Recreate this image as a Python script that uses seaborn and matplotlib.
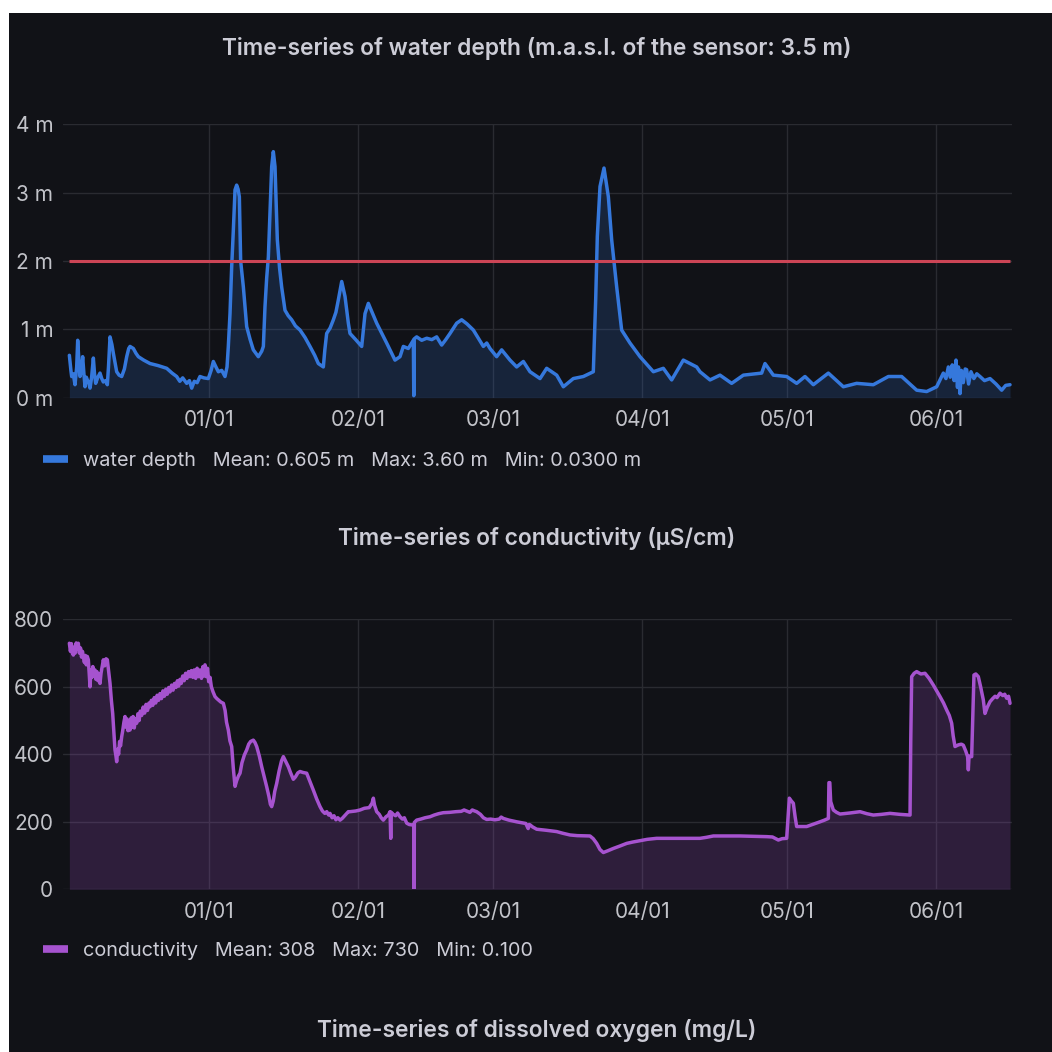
import pandas as pd
import matplotlib
matplotlib.use("Agg")
import matplotlib.pyplot as plt
import matplotlib.dates as mdates
from matplotlib.patches import Rectangle
from matplotlib.ticker import FixedLocator, FuncFormatter
import seaborn as sns

# ---------------------------------------------------------------- data
# Day offsets are counted from 1 January; values read at each sample.
START = pd.Timestamp("2023-01-01")

depth_points = [
    (-28.92, 0.62), (-28.6, 0.40), (-28.44, 0.31), (-28.1, 0.35), (-27.75, 0.19),
    (-27.4, 0.45), (-27.19, 0.84), (-26.95, 0.55), (-26.71, 0.31), (-26.4, 0.40),
    (-26.16, 0.60), (-25.9, 0.35), (-25.67, 0.16), (-25.4, 0.30), (-25.19, 0.26),
    (-24.9, 0.22), (-24.63, 0.14), (-24.3, 0.30), (-23.94, 0.58), (-23.7, 0.35),
    (-23.46, 0.21), (-23.0, 0.30), (-22.56, 0.36), (-22.2, 0.28), (-21.87, 0.23),
    (-21.4, 0.25), (-21.04, 0.19), (-20.8, 0.45), (-20.48, 0.89), (-20.1, 0.78),
    (-19.79, 0.65), (-19.4, 0.50), (-19.10, 0.38), (-18.6, 0.33), (-18.06, 0.31),
    (-17.5, 0.42), (-17.02, 0.60), (-16.6, 0.72), (-16.33, 0.75), (-15.64, 0.72),
    (-15.1, 0.65), (-14.60, 0.60), (-13.5, 0.55), (-12.18, 0.50), (-10.5, 0.47),
    (-8.72, 0.43), (-7.6, 0.36), (-6.65, 0.31), (-6.0, 0.24), (-5.4, 0.29),
    (-4.57, 0.21), (-4.0, 0.25), (-3.53, 0.14), (-3.0, 0.24), (-2.4, 0.22),
    (-1.81, 0.31), (-1.0, 0.29), (-0.08, 0.28), (0.5, 0.40), (0.96, 0.53),
    (1.5, 0.45), (2.0, 0.38), (2.7, 0.40), (3.38, 0.31), (3.8, 0.45),
    (4.07, 0.75), (4.42, 1.23), (4.77, 1.92), (5.11, 2.45), (5.46, 3.04),
    (5.80, 3.11), (6.1, 3.05), (6.36, 2.94), (6.63, 2.00), (7.19, 1.62),
    (7.88, 1.04), (8.6, 0.85), (9.26, 0.70), (10.30, 0.60), (11.0, 0.68),
    (11.34, 0.75), (11.68, 1.33), (12.03, 1.75), (12.38, 2.06), (12.72, 2.70),
    (13.07, 3.38), (13.41, 3.60), (13.76, 3.38), (14.24, 2.31), (14.7, 1.90),
    (15.14, 1.62), (15.83, 1.28), (16.5, 1.20), (17.22, 1.14), (18.0, 1.05),
    (18.95, 0.99), (20.0, 0.88), (21.02, 0.75), (22.0, 0.62), (22.75, 0.50),
    (23.79, 0.45), (24.1, 0.70), (24.48, 0.94), (25.2, 1.02), (25.87, 1.14),
    (26.40, 1.25), (26.90, 1.43), (27.60, 1.70), (28.29, 1.48), (28.98, 1.09),
    (29.32, 0.94), (30.5, 0.85), (31.75, 0.75), (32.44, 1.23), (33.13, 1.38),
    (34.86, 1.09), (36.93, 0.80), (38.66, 0.55), (39.70, 0.60), (40.39, 0.75),
    (41.43, 0.72), (42.47, 0.84), (42.56, 0.03), (42.64, 0.86), (43.16, 0.89),
    (44.2, 0.84), (45.24, 0.87), (46.3, 0.85), (47.31, 0.89), (48.35, 0.77),
    (49.2, 0.85), (50.08, 0.94), (51.46, 1.09), (52.50, 1.14), (53.6, 1.08),
    (54.92, 0.99), (57.00, 0.75), (57.7, 0.80), (58.38, 0.72), (59.76, 0.60),
    (60.80, 0.70), (61.6, 0.63), (62.53, 0.55), (63.91, 0.45), (65.30, 0.53),
    (66.68, 0.38), (68.76, 0.28), (70.14, 0.43), (72.22, 0.33), (73.60, 0.16),
    (75.67, 0.28), (77.75, 0.31), (79.82, 0.38), (80.31, 1.43), (80.65, 2.36),
    (81.21, 3.09), (82.04, 3.36), (82.94, 2.94), (83.63, 2.31), (84.67, 1.62),
    (85.70, 0.99), (87.43, 0.80), (89.51, 0.60), (92.28, 0.38), (94.35, 0.43),
    (96.08, 0.26), (98.50, 0.55), (101.27, 0.45), (101.96, 0.38), (104.04, 0.26),
    (106.11, 0.33), (108.53, 0.21), (110.96, 0.33), (114.76, 0.36), (115.45, 0.50),
    (117.18, 0.33), (119.95, 0.31), (122.02, 0.21), (123.75, 0.31), (125.48, 0.19),
    (128.60, 0.36), (131.71, 0.16), (134.47, 0.21), (137.93, 0.19), (141.05, 0.31),
    (143.81, 0.31), (146.93, 0.11), (149.00, 0.09), (151.08, 0.16), (152.46, 0.36),
    (153.0, 0.28), (153.50, 0.45), (153.9, 0.30), (154.3, 0.48), (154.7, 0.25),
    (155.09, 0.55), (155.4, 0.15), (155.6, 0.45), (155.92, 0.06), (156.2, 0.40),
    (156.6, 0.22), (157.0, 0.42), (157.30, 0.41), (157.7, 0.20), (158.2, 0.38),
    (158.8, 0.28), (159.4, 0.35), (160.07, 0.31), (161.0, 0.25), (162.15, 0.28),
    (163.4, 0.20), (164.57, 0.11), (165.4, 0.18), (166.30, 0.19),
]

conductivity_points = [
    (-28.92, 729), (-28.7, 705), (-28.5, 728), (-28.3, 700), (-28.09, 694),
    (-27.9, 718), (-27.7, 700), (-27.5, 730), (-27.3, 712), (-27.06, 729),
    (-26.85, 700), (-26.6, 715), (-26.4, 688), (-26.2, 705), (-26.02, 689),
    (-25.8, 672), (-25.6, 693), (-25.4, 665), (-25.2, 690), (-24.98, 680),
    (-24.8, 640), (-24.63, 600), (-24.45, 650), (-24.25, 628), (-24.05, 660),
    (-23.8, 632), (-23.6, 650), (-23.4, 622), (-23.2, 645), (-23.0, 618),
    (-22.8, 638), (-22.56, 610), (-22.35, 640), (-22.1, 660), (-21.87, 680),
    (-21.6, 662), (-21.3, 683), (-21.04, 680), (-20.8, 650), (-20.48, 610),
    (-20.2, 560), (-19.93, 521), (-19.7, 470), (-19.45, 413), (-19.25, 395),
    (-19.10, 378), (-18.9, 415), (-18.7, 400), (-18.5, 438), (-18.3, 425),
    (-18.06, 452), (-17.85, 470), (-17.6, 495), (-17.37, 512), (-17.15, 480),
    (-16.95, 505), (-16.75, 470), (-16.55, 500), (-16.33, 472), (-16.1, 508),
    (-15.9, 480), (-15.7, 512), (-15.45, 478), (-15.2, 505), (-14.95, 492),
    (-14.7, 520), (-14.45, 500), (-14.2, 528), (-13.91, 515), (-13.6, 540),
    (-13.3, 522), (-13.0, 548), (-12.7, 530), (-12.4, 552), (-12.18, 541),
    (-11.9, 560), (-11.6, 545), (-11.3, 568), (-11.0, 552), (-10.7, 575),
    (-10.4, 560), (-10.11, 580), (-9.8, 565), (-9.5, 588), (-9.2, 572),
    (-8.9, 593), (-8.6, 578), (-8.3, 598), (-8.03, 585), (-7.7, 605),
    (-7.4, 590), (-7.1, 610), (-6.8, 598), (-6.5, 618), (-6.25, 602),
    (-5.96, 622), (-5.7, 610), (-5.4, 632), (-5.1, 618), (-4.8, 640),
    (-4.5, 625), (-4.2, 645), (-3.88, 630), (-3.6, 648), (-3.3, 628),
    (-3.0, 650), (-2.7, 625), (-2.4, 655), (-2.1, 630), (-1.81, 650),
    (-1.5, 625), (-1.2, 660), (-0.95, 632), (-0.77, 665), (-0.5, 630),
    (-0.25, 655), (0.0, 615), (0.27, 628), (0.55, 600), (0.9, 585),
    (1.31, 571), (1.7, 565), (2.1, 560), (2.5, 555), (3.04, 551),
    (3.4, 530), (3.7, 495), (4.07, 472), (4.4, 440), (4.77, 423),
    (5.1, 360), (5.46, 305), (5.8, 322), (6.15, 335), (6.5, 344),
    (6.9, 375), (7.4, 398), (7.88, 413), (8.3, 430), (8.7, 438),
    (9.26, 442), (9.6, 435), (9.96, 423), (10.5, 395), (11.0, 363),
    (11.5, 335), (12.03, 304), (12.5, 275), (12.8, 252), (13.07, 245),
    (13.4, 262), (13.7, 290), (14.11, 314), (14.6, 350), (15.1, 380),
    (15.49, 393), (16.0, 378), (16.53, 363), (17.0, 345), (17.56, 326),
    (18.0, 333), (18.5, 345), (18.95, 349), (19.6, 346), (20.33, 344),
    (21.0, 320), (21.71, 294), (22.4, 268), (23.10, 245), (23.6, 232),
    (24.1, 225), (24.5, 230), (24.9, 220), (25.17, 225), (25.6, 212),
    (26.0, 218), (26.4, 206), (26.8, 212), (27.25, 205), (27.7, 210),
    (28.2, 218), (28.98, 230), (29.32, 230), (30.5, 232), (31.4, 235),
    (32.3, 240), (33.3, 242), (33.9, 255), (34.17, 270), (34.4, 250),
    (34.86, 230), (35.4, 222), (35.8, 212), (36.24, 205), (36.8, 215),
    (37.3, 220), (37.63, 230), (37.78, 151), (37.9, 228), (38.3, 222),
    (38.8, 218), (39.2, 226), (39.70, 215), (40.2, 208), (40.6, 212),
    (41.09, 196), (41.6, 192), (42.12, 191), (42.55, 190), (42.61, 0.1),
    (42.68, 198), (43.16, 205), (44.0, 208), (44.9, 212), (45.93, 215),
    (46.8, 220), (47.7, 224), (48.69, 227), (50.0, 228), (51.3, 230),
    (52.4, 231), (53.0, 235), (53.54, 232), (54.2, 228), (54.7, 235),
    (55.2, 232), (55.61, 230), (56.4, 222), (57.0, 212), (57.69, 207),
    (58.5, 208), (59.4, 206), (60.3, 208), (60.7, 214), (61.15, 210),
    (62.3, 205), (63.91, 200), (65.0, 197), (65.8, 195), (66.3, 180),
    (66.5, 192), (66.68, 191), (67.2, 185), (68.07, 178), (70.0, 175),
    (72.22, 171), (73.5, 166), (74.98, 161), (76.5, 159), (79.13, 158),
    (79.8, 150), (80.52, 136), (81.2, 118), (81.90, 109), (82.8, 114),
    (83.97, 121), (85.3, 128), (86.74, 136), (88.0, 140), (89.51, 144),
    (91.0, 148), (92.97, 151), (96.0, 151), (101.96, 151), (103.3, 154),
    (104.73, 158), (107.5, 158), (110.27, 158), (113.0, 157), (115.80, 156),
    (117.0, 155), (118.22, 146), (119.0, 150), (119.95, 151), (120.2, 205),
    (120.50, 270), (120.9, 262), (121.33, 255), (121.7, 215), (122.02, 186),
    (123.1, 186), (124.10, 186), (125.5, 193), (126.87, 200), (127.8, 205),
    (128.60, 210), (128.72, 316), (128.9, 316), (129.08, 260), (129.63, 235),
    (130.3, 228), (131.02, 223), (133.0, 226), (135.17, 230), (136.6, 224),
    (137.93, 220), (139.6, 222), (141.39, 225), (143.5, 222), (145.55, 220),
    (145.7, 440), (145.89, 630), (146.4, 640), (146.93, 645), (147.8, 638),
    (148.66, 640), (149.5, 625), (150.39, 605), (151.77, 571), (152.5, 552),
    (153.16, 531), (153.7, 515), (154.19, 492), (154.5, 455), (154.88, 423),
    (155.6, 428), (156.2, 430), (156.61, 427), (157.1, 410), (157.5, 393),
    (157.65, 354), (157.8, 395), (158.34, 393), (158.6, 520), (158.82, 635),
    (159.2, 638), (159.72, 630), (160.2, 600), (160.76, 561), (161.10, 521),
    (161.6, 540), (162.15, 556), (162.7, 565), (163.2, 572), (163.6, 568),
    (164.22, 581), (164.8, 574), (165.2, 578), (165.61, 566), (166.0, 572),
    (166.30, 551),
]

depth_threshold = 2.0
depth_ticks = [0, 1, 2, 3, 4]
conductivity_ticks = [0, 200, 400, 600, 800]

depth_stats = {"Mean": "0.605 m", "Max": "3.60 m", "Min": "0.0300 m"}
conductivity_stats = {"Mean": "308", "Max": "730", "Min": "0.100"}

titles = [
    "Time-series of water depth (m.a.s.l. of the sensor: 3.5 m)",
    "Time-series of conductivity (µS/cm)",
    "Time-series of dissolved oxygen (mg/L)",
]

# ---------------------------------------------------------------- style
W = H = 1052
BG = "#111217"
GRID = "#2a2b31"
TEXT = "#ccccd6"
TICK = "#c2c3c9"
BLUE = "#3578dc"
PURPLE = "#a653cf"
RED = "#cc4556"
FONT = ["Inter", "Roboto", "DejaVu Sans"]

sns.set_theme(style="dark", rc={
    "axes.facecolor": BG,
    "figure.facecolor": "white",
    "grid.color": GRID,
    "grid.linewidth": 1.0,
    "axes.grid": True,
    "text.color": TEXT,
    "xtick.color": TICK,
    "ytick.color": TICK,
})
plt.rcParams["font.family"] = FONT


def to_frame(points, name):
    df = pd.DataFrame(points, columns=["day", name])
    df["time"] = START + pd.to_timedelta(df["day"], unit="D")
    return df


depth = to_frame(depth_points, "depth")
cond = to_frame(conductivity_points, "cond")

fig = plt.figure(figsize=(W / 100, H / 100), dpi=100)
fig.add_artist(Rectangle((9 / W, 0), 1 - 9 / W, 1 - 13 / H,
                         transform=fig.transFigure, facecolor=BG,
                         edgecolor="none", zorder=-1))


def px_axes(left, top, right, bottom):
    return fig.add_axes([left / W, 1 - bottom / H,
                         (right - left) / W, (bottom - top) / H])


x_lo = START + pd.to_timedelta(-30.24, unit="D")
x_hi = START + pd.to_timedelta(166.65, unit="D")


def style_axes(ax, ticks, fmt):
    ax.set_xlim(x_lo, x_hi)
    ax.set_ylim(ticks[0], ticks[-1])
    ax.yaxis.set_major_locator(FixedLocator(ticks))
    ax.yaxis.set_major_formatter(FuncFormatter(fmt))
    ax.xaxis.set_major_locator(mdates.MonthLocator(bymonthday=1))
    ax.xaxis.set_major_formatter(mdates.DateFormatter("%m/%d"))
    ax.tick_params(axis="both", length=0, labelsize=15)
    ax.tick_params(axis="x", pad=9)
    ax.tick_params(axis="y", pad=7)
    for s in ax.spines.values():
        s.set_visible(False)
    ax.set_xlabel("")
    ax.set_ylabel("")
    ax.grid(True, color=GRID, lw=1.0)


def add_legend(color, label, stats, y_px):
    text = label + "".join(f"   {k}: {v}" for k, v in stats.items())
    handle = plt.Line2D([], [], color=color, lw=5.5, solid_capstyle="butt")
    fig.legend([handle], [text], loc="center left",
               bbox_to_anchor=(25 / W, 1 - y_px / H),
               bbox_transform=fig.transFigure, frameon=False,
               handlelength=1.25, handletextpad=0.75,
               prop={"size": 14.3}, labelcolor=TEXT)


# water depth panel
ax1 = px_axes(63, 124.3, 1011.7, 397.7)
sns.lineplot(data=depth, x="time", y="depth", ax=ax1, color=BLUE,
             lw=2.5, estimator=None, sort=False)
ax1.fill_between(depth["time"], depth["depth"], 0, color=BLUE, alpha=0.18, lw=0)
ax1.hlines(depth_threshold, depth["time"].iloc[0], depth["time"].iloc[-1],
           color=RED, lw=2.2, zorder=3)
style_axes(ax1, depth_ticks, lambda v, _: f"{v:.0f} m")
add_legend(BLUE, "water depth", depth_stats, 461)

# conductivity panel
ax2 = px_axes(63, 619.3, 1011.7, 889.3)
sns.lineplot(data=cond, x="time", y="cond", ax=ax2, color=PURPLE,
             lw=2.5, estimator=None, sort=False)
ax2.fill_between(cond["time"], cond["cond"], 0, color=PURPLE, alpha=0.2, lw=0)
style_axes(ax2, conductivity_ticks, lambda v, _: f"{v:.0f}")
add_legend(PURPLE, "conductivity", conductivity_stats, 951)

# panel titles
for title, y_px in zip(titles, [48, 539, 1031]):
    fig.text(537 / W, 1 - y_px / H, title, ha="center", va="center",
             fontsize=16.4, fontweight="semibold", color=TEXT)

fig.savefig("out.png", dpi=100, facecolor="white")
